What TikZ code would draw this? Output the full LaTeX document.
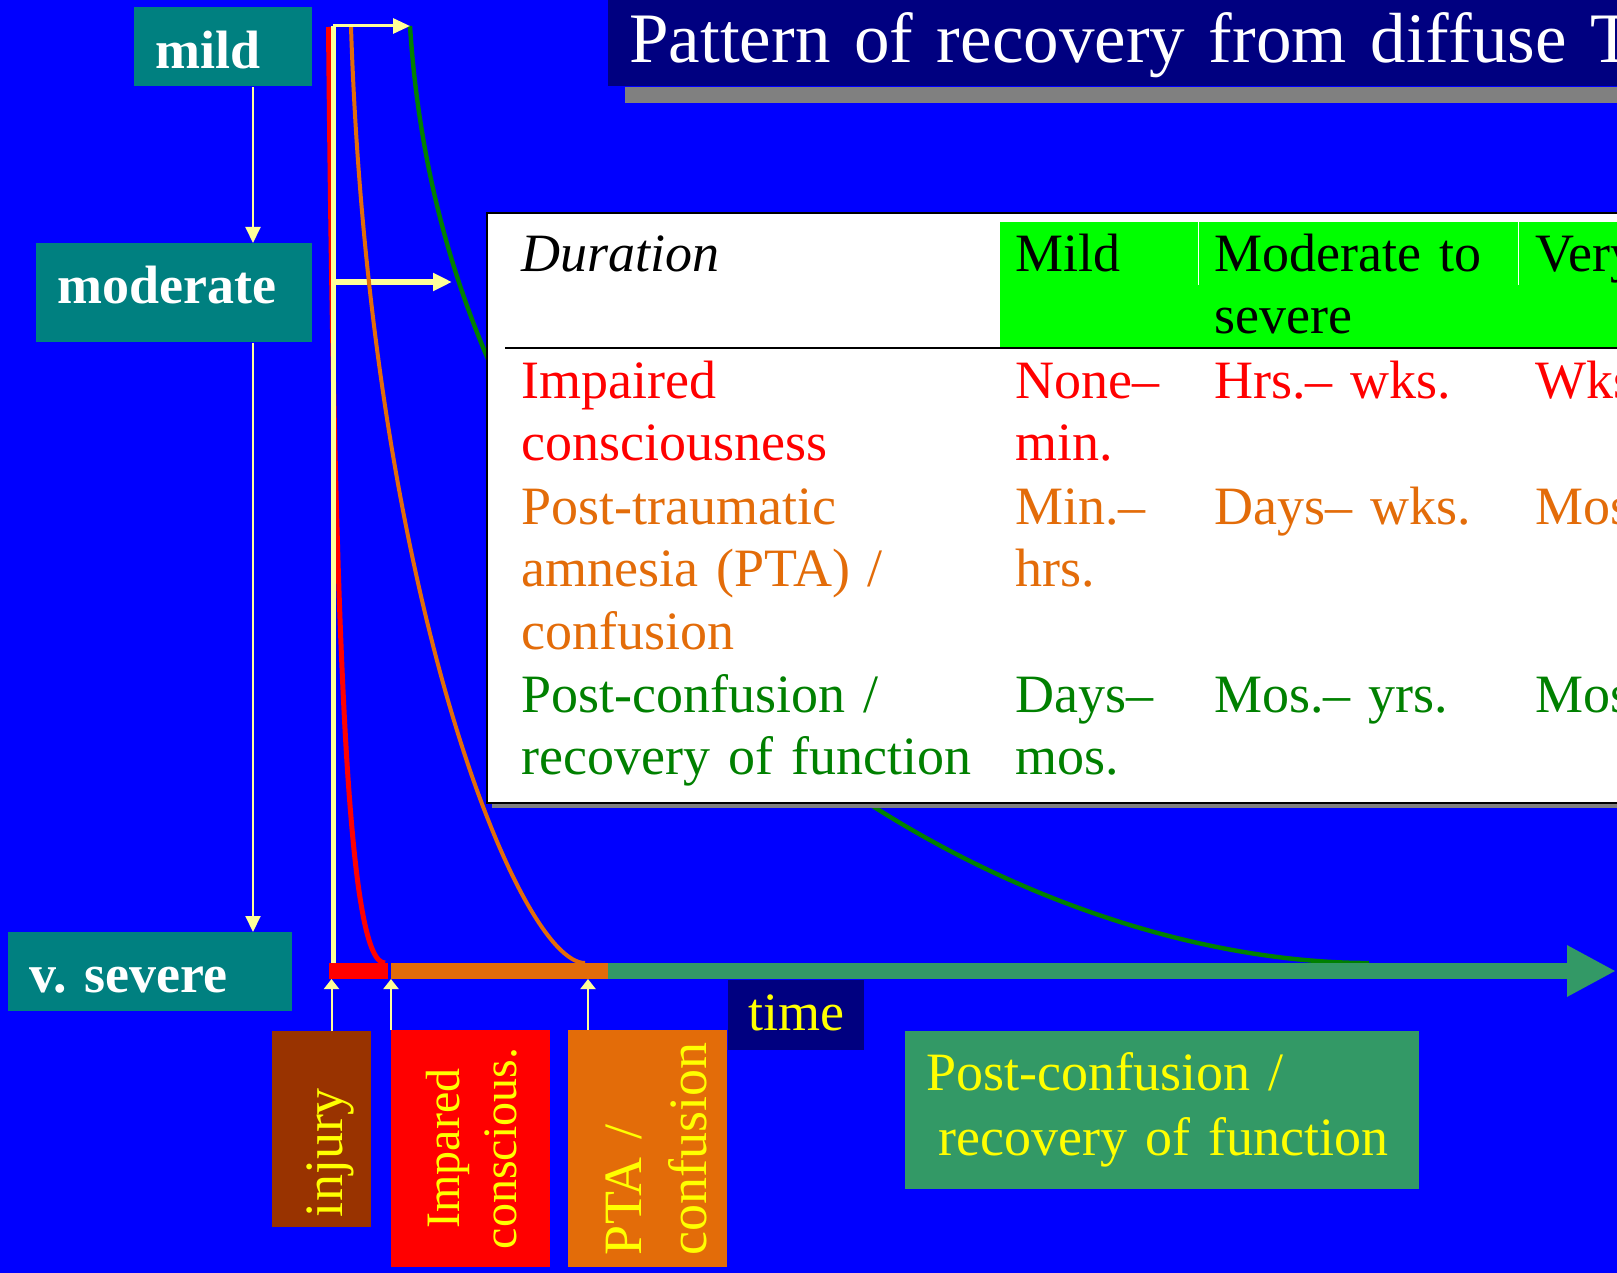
\documentclass[tikz,border=0pt]{standalone}
\usepackage{fontspec}
\setmainfont{Liberation Serif}
\usepackage{xcolor}
\usetikzlibrary{arrows.meta,positioning,calc}
\definecolor{Royal}{HTML}{0000FF}
\definecolor{Teal}{HTML}{008080}
\definecolor{Navy}{HTML}{000080}
\definecolor{Shade}{HTML}{808080}
\definecolor{HeadGreen}{HTML}{00FF00}
\definecolor{TRed}{HTML}{FF0000}
\definecolor{TOrange}{HTML}{E36C09}
\definecolor{TGreen}{HTML}{008000}
\definecolor{Sea}{HTML}{339966}
\definecolor{Rust}{HTML}{993300}
\definecolor{Pale}{HTML}{FFFF99}
\definecolor{Yel}{HTML}{FFFF00}
\newcommand{\cellfont}{\fontsize{27}{31.25}\selectfont}
\frenchspacing

\tikzset{
  tag/.style={fill=Teal, text=white, font=\bfseries\fontsize{27}{30}\selectfont, inner xsep=10.5pt, inner ysep=0pt, align=left, anchor=north west, text height=30pt},
  flag/.style={text=Yel, inner ysep=0pt, rotate=90, font=\fontsize{27}{32.5}\selectfont},
  cell/.style={anchor=base west, inner sep=0pt, text width=250pt, align=left, font=\cellfont},
  thinarrow/.style={draw=Pale, line width=1pt, -{Triangle[length=8pt,width=7.5pt]}},
  uparrow/.style={draw=Pale, line width=1pt, -{Triangle[length=5pt,width=7.5pt]}},
}

\begin{document}
\begin{tikzpicture}[x=0.5pt,y=-0.5pt]
  \useasboundingbox (0,0) rectangle (1617,1273);
  \clip (0,0) rectangle (1617,1273);
  \fill[Royal] (0,0) rectangle (1617,1273);

  % severity
  \node[tag, text width=68pt, text height=30.5pt, text depth=9pt] (mild) at (134,7) {mild};
  \node[tag, text width=117pt, text depth=19.5pt] (moderate) at (36,243) {moderate};
  \node[tag, text width=121pt, text depth=9.5pt] (vsevere) at (8,932) {v. severe};
  \coordinate (mx) at (253,0);
  \draw[thinarrow] (mild.south -| mx) -- (moderate.north -| mx);
  \draw[thinarrow] (moderate.south -| mx) -- (vsevere.north -| mx);

  % title
  \node[fill=Navy, text=white, anchor=north west, inner xsep=10.5pt, inner ysep=0pt, text height=31pt, text depth=12pt, text width=700pt, align=left, font=\fontsize{35.5}{40}\selectfont] (title) at (608,0) {Pattern of recovery from diffuse TBI};
  \fill[Shade] ([shift={(17,0)}]title.south west) rectangle ([shift={(17,16)}]title.south east);

  % recovery curves
  \coordinate (top) at (333,26);
  \coordinate (bot) at (333,963);
  \coordinate (gstart) at (410,26);
  \coordinate (gend) at (1369,963);
  \coordinate (ostart) at (351,27);
  \coordinate (oend) at (585,963);
  \coordinate (rstart) at (328.5,27);
  \coordinate (rend) at (385,963);
  \coordinate (gmid) at (452,282);
  \draw[TGreen, line width=2.2pt] (gstart) .. controls (450,650) and (1000,963) .. (gend);
  \draw[Pale, line width=3pt, -{Triangle[length=9.5pt,width=8.5pt]}] (bot |- gmid) -- (gmid);
  \draw[TOrange, line width=2pt] (ostart) .. controls (370,600) and (520,963) .. (oend);
  \draw[TRed, line width=2.5pt] (rstart) .. controls (335,700) and (350,963) .. (rend);
  \draw[Pale, line width=2.5pt] (bot) -- (top);
  \draw[Pale, line width=1.5pt, -{Triangle[length=8.5pt,width=7.5pt]}] (top) -- (gstart);

  % duration table
  \fill[Shade] (492,218) rectangle (1640,808);
  \node[fill=white, draw=black, line width=1pt, anchor=north west, minimum width=600pt, minimum height=295pt, inner sep=0pt] (durtab) at (486,212) {};
  \fill[HeadGreen] (1000,222) rectangle (1640,348);
  \draw[white, line width=0.5pt] (1198,222) -- (1198,285) (1518,222) -- (1518,285);
  \draw[black, line width=1pt] (505,348) -- (1640,348);

  \node[cell] (hdur) at (521,271) {\textit{Duration}};
  \node[cell] (hmild) at (1015,271) {Mild};
  \node[cell] (hmod) at (1214,271) {Moderate to\\severe};
  \node[cell] (hvs) at (1535,271) {Very severe};

  \node[cell, text=TRed] (icname) at (521,398) {Impaired\\consciousness};
  \node[cell, text=TRed] (icmild) at (1015,398) {None–\\min.};
  \node[cell, text=TRed] (icmod) at (1214,398) {Hrs.– wks.};
  \node[cell, text=TRed] (icvs) at (1535,398) {Wks.– mos.};

  \node[cell, text=TOrange] (ptaname) at (521,524) {Post-traumatic\\amnesia (PTA) /\\confusion};
  \node[cell, text=TOrange] (ptamild) at (1015,524) {Min.–\\hrs.};
  \node[cell, text=TOrange] (ptamod) at (1214,524) {Days– wks.};
  \node[cell, text=TOrange] (ptavs) at (1535,524) {Mos.– yrs.};

  \node[cell, text=TGreen] (pcname) at (521,712) {Post-confusion /\\recovery of function};
  \node[cell, text=TGreen] (pcmild) at (1015,712) {Days–\\mos.};
  \node[cell, text=TGreen] (pcmod) at (1214,712) {Mos.– yrs.};
  \node[cell, text=TGreen] (pcvs) at (1535,712) {Mos.– yrs.};

  % time axis
  \coordinate (ax0) at (329,971);
  \coordinate (ax1) at (388,971);
  \coordinate (ax2) at (391,971);
  \coordinate (ax3) at (608,971);
  \coordinate (axend) at (1616,971);
  \draw[TRed, line width=8pt] (ax0) -- (ax1);
  \draw[TOrange, line width=8pt] (ax2) -- (ax3);
  \draw[Sea, line width=8pt, -{Triangle[length=24.5pt,width=24pt]}] (ax3) -- (axend);

  % phases
  \node[flag, fill=Rust, text width=88pt, inner xsep=5pt, text height=35pt, text depth=14.5pt, align=left] (injury) at (321.5,1129) {injury};
  \node[flag, fill=TRed, text width=108.5pt, inner xsep=5pt, text height=34pt, text depth=45.5pt, align=center, font=\fontsize{24}{28.5}\selectfont] (impared) at (470.5,1148.5) {Impared\\conscious.};
  \node[flag, fill=TOrange, text width=106.5pt, inner xsep=6pt, text height=36.5pt, text depth=43pt, align=left] (pta) at (647.5,1148.5) {PTA /\\confusion};
  \coordinate (tinj) at (331.5,979);
  \coordinate (timp) at (391,979);
  \coordinate (tpta) at (588,979);
  \draw[uparrow] (tinj |- injury.east) -- (tinj);
  \draw[uparrow] (timp |- impared.east) -- (timp);
  \draw[uparrow] (tpta |- pta.east) -- (tpta);

  \node[fill=Navy, text=Yel, anchor=north west, inner xsep=10pt, inner ysep=0pt, text width=48pt, text height=25pt, text depth=10pt, font=\cellfont] (time) at (728,980) {time};
  \node[fill=Sea, text=Yel, anchor=north west, inner xsep=10.5pt, inner ysep=0pt, text width=236pt, text height=29.5pt, text depth=49.5pt, align=left, font=\fontsize{27}{32.5}\selectfont] (postconf) at (905,1031) {Post-confusion /\\\hspace*{6pt}recovery of function};
\end{tikzpicture}
\end{document}
